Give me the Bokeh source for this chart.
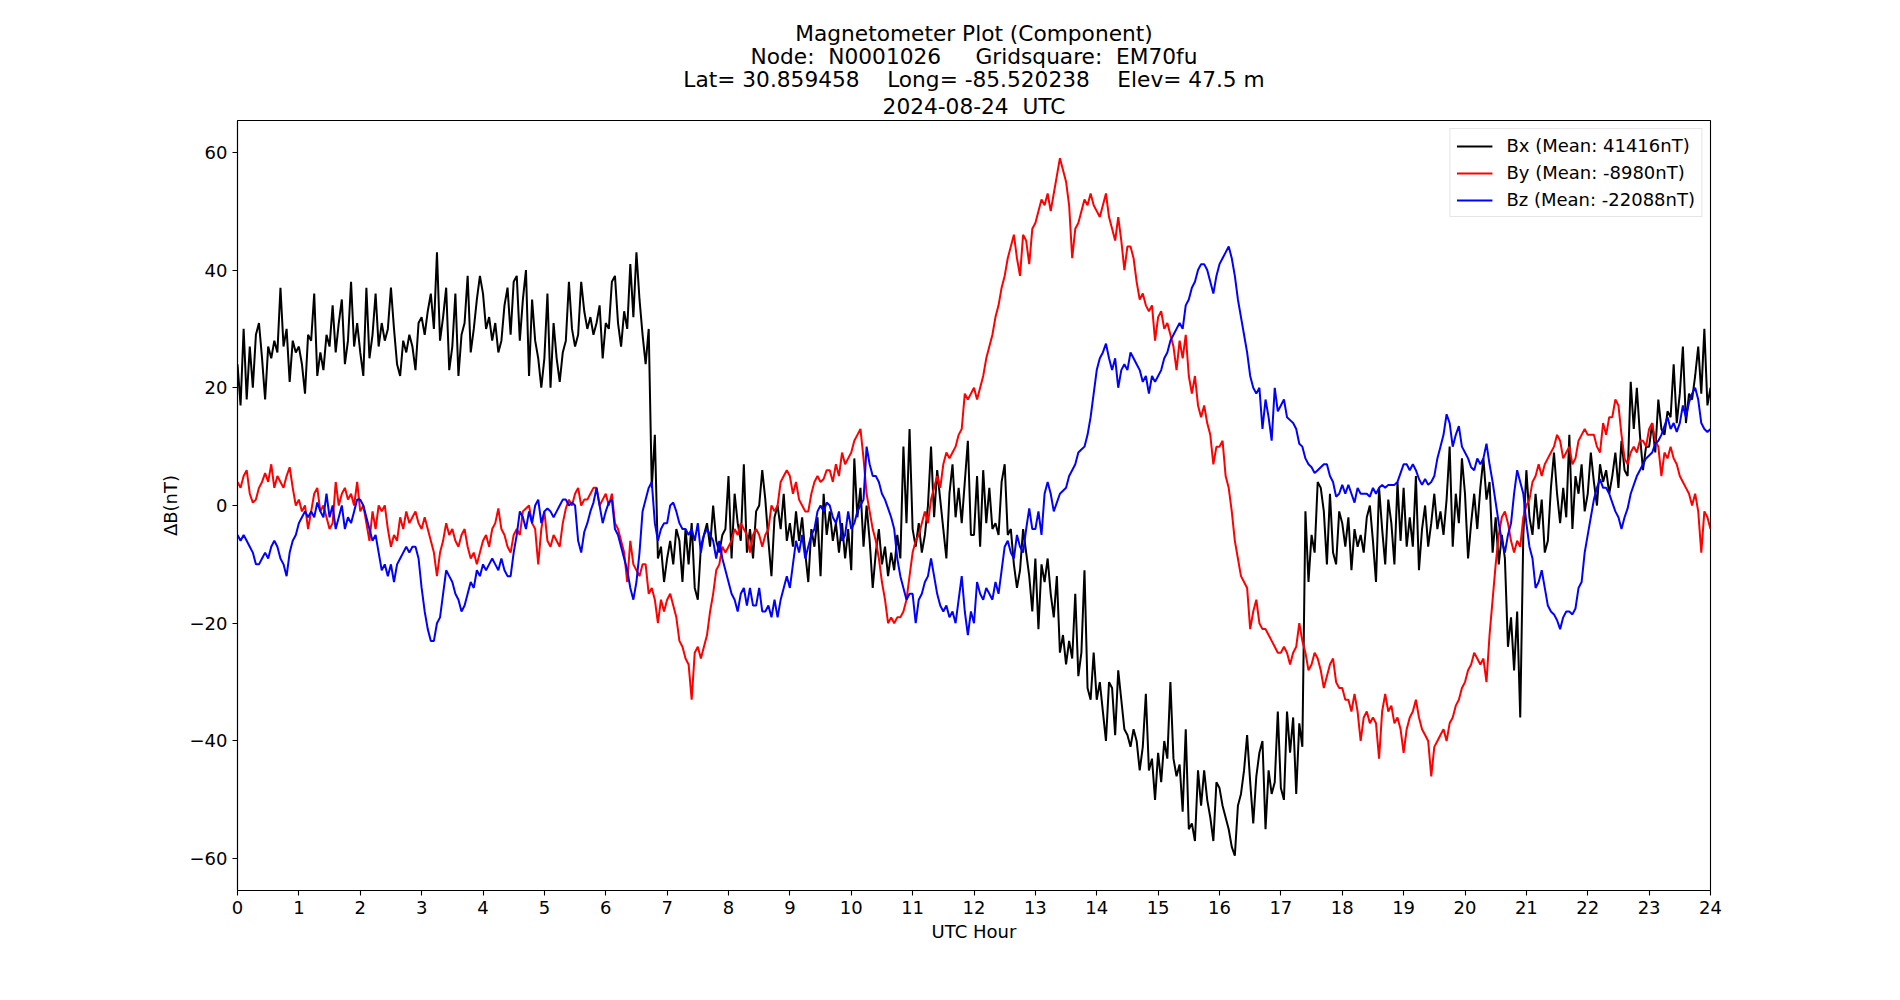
from bokeh.plotting import figure
from bokeh.models import Range1d, FixedTicker, Title, Legend, LegendItem
from bokeh.embed import file_html
from bokeh.resources import INLINE
import re

# ---------------- data (one value every 0.05 h) ----------------
STEP_HOURS = 0.05

BX = [
    24, 17, 30, 18, 27, 20, 29, 31, 25, 18, 27, 25, 28, 26, 37, 27, 30, 21, 28, 26,
    27, 24, 19, 29, 28, 36, 22, 26, 23, 29, 27, 34, 26, 31, 35, 24, 28, 38, 27, 31,
    26, 22, 37, 25, 29, 36, 27, 31, 28, 30, 37, 30, 24, 22, 28, 26, 29, 27, 23, 31,
    32, 29, 33, 36, 30, 43, 28, 32, 37, 23, 27, 36, 22, 29, 31, 39, 26, 30, 35, 39,
    36, 30, 32, 28, 31, 26, 28, 34, 37, 29, 38, 39, 28, 35, 40, 22, 35, 28, 25, 20,
    25, 36, 20, 31, 25, 21, 26, 28, 38, 30, 27, 29, 38, 33, 30, 32, 29, 31, 34, 25,
    31, 30, 38, 39, 31, 27, 33, 30, 41, 32, 43, 35, 29, 24, 30, 3, 12, -9, -7, -13,
    -9, -6, -10, -4, -6, -13, -4, -10, -3, -14, -16, -7, -5, -3, -7, 0, -6, -8, -5, -4,
    5, -9, 2, -3, -6, 7, -8, -4, -9, -1, 0, 6, 1, -6, -12, -2, 0, -4, 2, -6,
    -3, -7, -1, -6, -2, -8, -13, -4, -7, -2, -12, 2, -5, -1, -6, -3, -8, -3, -9, -4,
    -11, 8, -2, 3, -7, 0, -6, -14, -8, -4, -10, -7, -12, -8, -11, -5, -9, 10, -3, 13,
    -4, -7, -3, -8, -5, 0, 10, -2, 6, 1, -4, -9, 2, 7, -2, 3, -3, 4, 11, -5,
    -5, 5, -7, 6, -3, 3, -4, -3, -5, 4, 7, -5, -4, -10, -14, -11, -4, -8, -12, -18,
    -9, -21, -10, -13, -9, -15, -19, -12, -25, -22, -27, -23, -26, -15, -29, -25, -11, -31, -33, -25,
    -33, -30, -35, -40, -30, -31, -39, -28, -33, -38, -39, -41, -38, -40, -45, -41, -32, -45, -43, -50,
    -42, -47, -40, -43, -30, -43, -46, -44, -52, -38, -55, -54, -57, -45, -51, -45, -50, -53, -57, -47,
    -48, -51, -53, -55, -58, -59.5, -51, -49, -45, -39, -47, -54, -46, -42, -40, -55, -45, -49, -47, -35,
    -48, -50, -35, -42, -36, -49, -37, -41, -1, -13, -5, -8, 4, 3, -1, -10, 2, -8, -10, -1,
    -3, -7, -2, -11, -4, -7, -5, -8, -2, 0, -6, -13, 3, -4, -10, 1, -3, -10, 4, -6,
    3, -7, -2, -7, 5, -11, -4, 0, -7, -3, 2, -4, -1, -5, 1, 10, -7, 2, -3, 8,
    2, -9, -3, 2, -4, 3, 8, 1, 4, -8, -2, -10, -5, -9, -24, -19, -28, -18, -36, -5,
    6, -2, -5, 2, -4, 1, -8, -6, 3, 9, 2, -3, 3, -2, 12, -4, 5, 2, 7, -1,
    2, 9, 4, 0, 7, 4, 6, 2, 5, 9, 3, 11, 6, 5, 21, 13, 20, 12, 6, 10,
    10, 14, 9, 18, 13, 12, 16, 15, 24, 14, 19, 27, 14, 19, 18, 22, 27, 19, 30, 17,
    20,
]

BY = [
    4, 3, 5, 6, 2, 0.5, 1, 3, 4, 5.5, 4, 7, 3, 5, 4, 3, 5, 6.5, 3, 0,
    1, -1, 0, -4, -1, 2, 3, -1, 0, -2, -4, -3, 4, 0, 2, 3, 1, 2, 0, 4,
    -1, 0, -3, -6, -1, -4, 0, -1, 0, -4, -7, -5, -6, -2, -4, -1, -3, -2, -1, -3,
    -4, -2, -4, -6, -8, -12, -8, -6, -3, -5, -4, -6, -7, -5, -4, -7, -9, -8, -10, -8,
    -6, -5, -7, -4, -3, -0.5, -4, -5, -7, -8, -5, -4, -5, -1, -0.5, 0, -3, -4, -10, -4,
    -1, -6, -7, -5, -6, -7, -3, -0.5, 1, 0, 2, 3, 0, 1, 1, 2, 3, 3, 0, 1,
    2, 0, 2, -3, -4, -6, -8, -13, -6, -10, -11, -12, -10, -10, -15, -14, -16, -20, -16, -18,
    -16, -15, -17, -19, -23, -24, -26, -27, -33, -25, -24, -26, -24, -22, -18, -15, -11, -10, -7, -8,
    -7, -6, -4, -5, -3, -4, -5, -8, -5, -4, -5, -7, -5, -4, 0, -1, 0, 4, 5, 6,
    5, 2, 4, 1, 0, -1, -1, 2, 4, 5, 4, 4.5, 6, 6, 4, 7, 5, 9, 7, 8,
    9, 11, 12, 13, 8, 2, -1, -4, -6, -9, -13, -16, -20, -19, -20, -19, -19, -18, -16, -12,
    -8, -6, -5, -3, -1, -3, 1, 3, 5, 3, 7, 9, 8, 9, 10, 12, 13, 19, 18, 19,
    20, 18, 20, 22, 25, 27, 29, 32, 34, 37, 39, 42, 44, 46, 42, 39, 46, 45, 41, 47,
    48, 50, 52, 51, 53, 50, 53, 56, 59, 57, 55, 51, 42, 47, 48, 50, 52, 51, 53, 51,
    50, 49, 51, 53, 49, 47, 45, 49, 45, 40, 44, 44, 42, 38, 35, 36, 34, 33, 34, 28,
    32, 33, 30, 31, 29, 27, 23, 28, 25, 29, 22, 19, 22, 17, 15, 17, 14, 12, 7, 10,
    10, 11, 5, 3, -1, -6, -9, -12, -13, -14, -21, -18, -16, -20, -21, -21, -22, -23, -24, -25,
    -25, -24, -25, -27, -25, -24, -20, -23, -25, -28, -27, -25, -26, -28, -31, -29, -27, -26, -30, -31,
    -31, -33, -33, -35, -32, -35, -40, -36, -35, -37, -36, -37, -43, -35, -32, -35, -34, -37, -36, -38,
    -42, -38, -36, -35, -33, -36, -38, -39, -40, -46, -41, -40, -39, -38, -40, -37, -36, -34, -33, -31,
    -30, -28, -27, -25, -26, -27, -26, -30, -22, -16, -10, -5, -2, -1, -3, -6, -8, -6, -7, -2,
    0, 1, 4, 5, 7, 5, 7, 8, 9, 10, 12, 11, 8, 9, 10, 7, 8, 11, 12, 13,
    12, 12, 12, 10, 9, 14, 12, 15, 15, 18, 17, 12, 8, 7, 9, 10, 9, 11, 11, 10,
    13, 14, 11, 10, 5, 9, 8, 10, 8, 7, 5, 4, 3, 2, 0, 2, -1, -8, -1, -2,
    -4,
]

BZ = [
    -5, -6, -5, -6, -7, -8, -10, -10, -9, -8, -9, -7, -6, -7, -9, -10, -12, -8, -6, -5,
    -3, -2, -1, -2, -1, -2, 0.5, -1, -2, 2, -2, 0, -4, -2, 0, -4, -2, -3, -1, 1,
    1, 0, -2, -4, -6, -5, -8, -11, -10, -12, -10, -13, -10, -9, -8, -7, -8, -7, -7, -9,
    -14, -18, -21, -23, -23, -20, -19, -15, -11, -12, -13, -15, -16, -18, -17, -15, -13, -14, -11, -12,
    -10, -11, -10, -9, -10, -11, -9, -11, -12, -12, -8, -5, -1, -2, -4, -1, -3, 0, 1, -3,
    -1, -0.5, -1, -2, -1, 0, 1, 1, 0, 0.5, 0, -6, -8, -4.5, -3, -1, 0.5, 3, 0, -3,
    -1, 0.5, 1, -4, -5, -7, -9, -11, -14, -16, -13, -8, -1, 1, 3, 4, -3, -6, -4, -3,
    -3, 0, 0.5, -1, -3, -4, -4, -5, -4, -6, -3, -8, -5, -4, -5, -6, -9, -6, -9, -11,
    -13, -15, -16, -18, -15, -14, -17, -14, -17, -17, -14, -18, -18, -17, -19, -16, -19, -16, -14, -12,
    -14, -10, -6, -8, -5, -9, -7, -5, -4, -1, 0, -1, 0.5, 0, -2, -3, -1, -6, -5, -1,
    -4, -3, -1, 0, 1, 10, 7, 5, 5, 4, 2, 1, -0.5, -2, -4, -9, -12, -14, -16, -15,
    -15, -20, -16, -15, -13, -12, -9, -12, -15, -17, -18, -17, -19, -18, -20, -16, -12, -18, -22, -18,
    -20, -13, -15, -16, -14, -15, -16, -13, -15, -11, -7, -6, -8, -9, -5, -7, -8, -4, -0.5, -4,
    -4, -1, -5, 2, 4, 2, -1, 0.5, 2, 2.5, 3, 5, 6, 7, 9, 9.5, 10, 12, 15, 19,
    23, 25, 26, 27.5, 25, 23, 25, 20, 23, 24, 23, 26, 25, 24, 23, 21, 22, 19, 22, 21,
    22, 23, 25, 26, 28, 29, 30, 31, 30, 34, 35, 37, 38, 40, 41, 41, 40, 38, 36, 39,
    41, 42, 43, 44, 42, 39, 35, 32, 29, 26, 22, 20, 19, 20, 13, 18, 15, 11, 20, 16,
    17, 18, 15, 14.5, 14, 13, 10.5, 10, 8, 7, 6.5, 5.5, 6, 6.5, 7, 7, 5, 4, 1.5, 2,
    3.5, 2, 3.5, 2, 0.5, 3, 2, 2, 2, 1.5, 3, 2, 3, 3.5, 3, 3.5, 3.5, 3.5, 4, 5.5,
    7, 7, 6, 7, 6, 4.5, 3.5, 4.5, 3.5, 4, 5, 8, 10, 12, 15.5, 14, 10, 12, 13.5, 10,
    9, 8, 6.5, 6, 8, 7, 8, 10.5, 7, 4, 0.5, -3, -6, -8, -5, -3, 2, 6, 4, 2,
    -3, -7, -9, -14, -13, -11, -14, -17, -18, -18.5, -19.5, -21, -19, -18, -18, -18.5, -17.5, -14, -13, -8,
    -5, -2, 1, 3, 4.5, 3, 3, 2, 0.5, -1, -2, -4, -2, -0.5, 2, 3.5, 5, 6, 7, 8,
    8.5, 9, 10.5, 11, 12, 13.5, 15, 13, 14, 12.5, 14, 17, 15, 17.5, 19, 20, 18, 14, 13, 12.5,
    13,
]

HOURS = [round(i * STEP_HOURS, 2) for i in range(len(BX))]

SERIES_NAMES = ["Bx (Mean: 41416nT)", "By (Mean: -8980nT)", "Bz (Mean: -22088nT)"]
SERIES_COLORS = ["black", "red", "blue"]

X_TICKS = list(range(0, 25))
Y_TICKS = [-60, -40, -20, 0, 20, 40, 60]
Y_TICK_LABELS = {-60: "\u221260", -40: "\u221240", -20: "\u221220", 0: "0",
                 20: "20", 40: "40", 60: "60"}

TITLE_LINES = [
    "Magnetometer Plot (Component)",
    "Node:  N0001026     Gridsquare:  EM70fu",
    "Lat= 30.859458    Long= -85.520238    Elev= 47.5 m",
    "2024-08-24  UTC",
]
X_LABEL = "UTC Hour"
Y_LABEL = "\u0394B(nT)"

# ---------------- layout ----------------
FONT = "DejaVu Sans"


def keep_spaces(s):
    # SVG collapses runs of spaces; keep their width with no-break spaces
    return re.sub(r" {2,}", lambda m: " " + "\u00a0" * (len(m.group(0)) - 1), s)


p = figure(width=1900, height=1000, output_backend="svg", toolbar_location=None,
           x_range=Range1d(0, 24), y_range=Range1d(-65.4, 65.4),
           min_border_left=237, min_border_right=190,
           min_border_top=120, min_border_bottom=110)
p.title = None
p.background_fill_color = "white"
p.border_fill_color = "white"
p.outline_line_color = "black"
p.outline_line_width = 1.1
p.grid.visible = False

renderers = []
for ys, col in zip([BX, BY, BZ], SERIES_COLORS):
    r = p.line(HOURS, ys, line_color=col, line_width=2)
    renderers.append(r)

legend = Legend(
    items=[LegendItem(label=n, renderers=[r]) for n, r in zip(SERIES_NAMES, renderers)],
    location="top_right",
    margin=8, padding=6, spacing=6,
    glyph_width=36, glyph_height=20, label_height=20, label_standoff=14,
    label_text_font=FONT, label_text_font_size="18px", label_text_color="black",
    border_line_color="#cccccc", border_line_width=1,
    background_fill_color="white", background_fill_alpha=0.8,
)
p.add_layout(legend)

p.xaxis.ticker = FixedTicker(ticks=X_TICKS)
p.yaxis.ticker = FixedTicker(ticks=Y_TICKS)
p.yaxis.major_label_overrides = Y_TICK_LABELS
for ax in (p.xaxis, p.yaxis):
    ax.major_label_text_font = FONT
    ax.major_label_text_font_size = "18px"
    ax.major_label_text_color = "black"
    ax.major_tick_out = 5
    ax.major_tick_in = 0
    ax.minor_tick_out = 0
    ax.minor_tick_in = 0
    ax.major_tick_line_width = 1.1
    ax.major_tick_line_color = "black"
    ax.axis_line_width = 1.1
    ax.axis_line_color = "black"
    ax.major_label_standoff = 5
    ax.axis_label_text_font = FONT
    ax.axis_label_text_font_size = "18px"
    ax.axis_label_text_font_style = "normal"
    ax.axis_label_text_color = "black"
p.xaxis.axis_label_standoff = 4
p.yaxis.axis_label_standoff = 6
p.xaxis.axis_label = X_LABEL
p.yaxis.axis_label = Y_LABEL

# stacked titles: the one added first sits next to the plot
for i, line in enumerate(reversed(TITLE_LINES)):
    p.add_layout(Title(text=keep_spaces(line), align="center",
                       text_font=FONT, text_font_size="21.7px", text_font_style="normal",
                       text_color="black",
                       standoff=2.5 if i == 0 else -3.7, offset=0), "above")

open("out.html", "w").write(file_html(p, INLINE, title="Magnetometer Plot"))
